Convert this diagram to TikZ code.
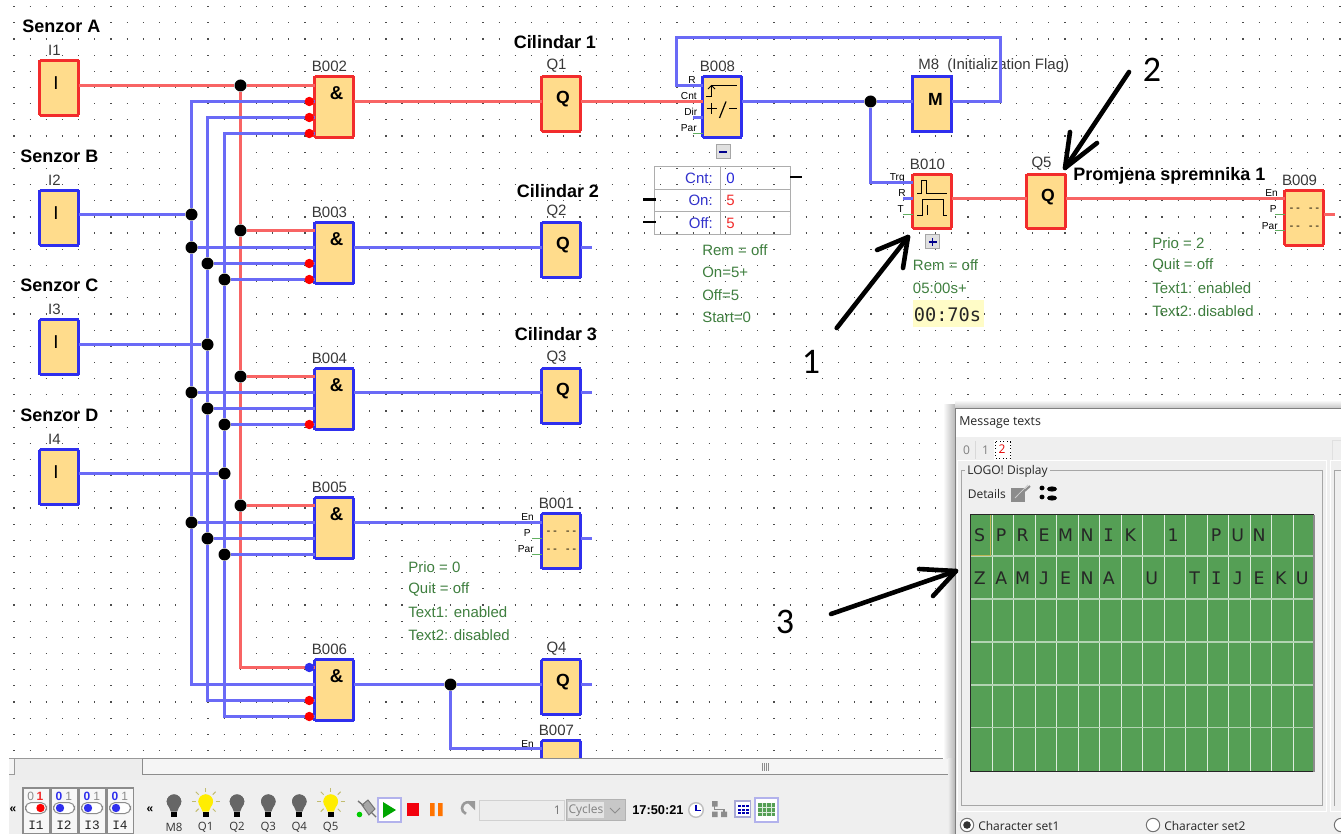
\documentclass[tikz,border=0pt]{standalone}
\usepackage{fontspec}
\setmainfont{Liberation Sans}
\newfontfamily\monofnt{DejaVu Sans Mono}
\newfontfamily\lcdfnt{DejaVu Sans}
\newfontfamily\uifnt{Open Sans}
\newfontfamily\numfnt{Carlito}
\newfontfamily\serfnt{Liberation Mono}
\usetikzlibrary{calc}
\def\px{0.75pt}
\newcommand\szf[1]{\fontsize{#1}{#1}\selectfont}
\newcommand\LI{{\monofnt I}}
\newcommand\LJ{{\monofnt J}}
\definecolor{blk}{HTML}{FFDC8C}
\definecolor{bw}{HTML}{2F2FEE}
\definecolor{rw}{HTML}{F22C2C}
\definecolor{bwl}{HTML}{6A6AF6}
\definecolor{rwl}{HTML}{F86464}
\definecolor{gw}{HTML}{62B062}
\definecolor{gtxt}{HTML}{3F7F3F}
\definecolor{uibg}{HTML}{EFEFEF}
\definecolor{lcd}{HTML}{559F55}
\tikzset{
 block/.style={rectangle,fill=blk,line width=1.4*\px,inner sep=0,outer sep=0,anchor=north west,minimum width=39*\px},
 bb/.style={draw=bw},
 rb/.style={draw=rw},
 idlab/.style={font=\szf{11.25},text=black!78,inner sep=0},
 amp/.style={font=\szf{14}\bfseries,inner sep=0},
 qg/.style={font=\szf{13.2}\bfseries,inner sep=0},
 ig/.style={font=\szf{14},inner sep=0},
 port/.style={font=\szf{7.6},inner sep=0,anchor=east},
 junc/.style={circle,fill=black,inner sep=0,minimum size=12*\px},
 pinr/.style={circle,fill=red,inner sep=0,minimum size=9.4*\px},
 pinb/.style={circle,fill=bw,inner sep=0,minimum size=9.4*\px},
 bwire/.style={draw=bwl,line width=2.2*\px},
 rwire/.style={draw=rwl,line width=2.2*\px},
 gwire/.style={draw=gw,line width=1.3*\px},
 gt/.style={font=\szf{11.25},text=gtxt,inner sep=0,anchor=west},
 head/.style={font=\szf{13.5}\bfseries,inner sep=0,anchor=west},
 hand/.style={draw=black,line width=4.6*\px,line cap=round,line join=round},
 handno/.style={font=\numfnt\szf{27},inner sep=0},
 ui/.style={font=\uifnt\szf{9},inner sep=0,anchor=west,text=black!85},
 lcdch/.style={font=\lcdfnt\szf{13},inner sep=0,text=black!85},
 btnlab/.style={font=\szf{9},inner sep=0},
}
\newcommand\blkn[6]{% name,x,y,h,style,label
 \node[block,#5,minimum height=#4*\px] (#1) at (#2,#3) {};
 \node[idlab] (#1lab) at ($(#1.north)+(-4.5,-10.5)$) {#6};
 \draw[#5,line width=2.6*\px] ($(#1.north east)+(-0.3,0)$) -- ($(#1.south east)+(-0.3,0)$);
 \draw[#5,line width=2.2*\px] (#1.south west) -- (#1.south east);
 \draw[#5,line width=2.2*\px] (#1.north west) -- (#1.north east);
 \draw[#5,line width=2.2*\px] (#1.north west) -- (#1.south west);
}
\newcommand\glyphn[5]{\node[#2] (#1g) at ($(#1.north west)+(#3,#4)$) {#5};}
\newcommand\bulbn[4]{% x,color,label,name
 \fill[#2] (#1-7.3,801.7) arc (180:360:7.3) -- (#1+3.2,811.5) -- (#1-3.2,811.5) -- cycle;
 \fill[#2] (#1,801.7) circle (7.3);
 \fill[black] (#1-3,811.5) rectangle (#1+3,817);
 \node[font=\uifnt\szf{8.6},inner sep=0,text=black!80] (#4) at (#1,827.5) {#3};
}
\begin{document}
\begin{tikzpicture}[x=0.75pt,y=-0.75pt]
\useasboundingbox (0,0) rectangle (1341,834);
\fill[white] (0,0) rectangle (1341,834);
% dot grid
\foreach \j in {0,...,46}
  \draw[black!70,line width=1.2*\px,dash pattern=on 0.9pt off 11.2275pt]
     (13.4,6.7+16.17*\j) -- (1341,6.7+16.17*\j);
% ---- blocks
\blkn{I1}{39.5}{60.5}{55}{rb}{I1}
\blkn{I2}{39.5}{190.5}{55}{bb}{I2}
\blkn{I3}{39.5}{319.5}{55}{bb}{I3}
\blkn{I4}{39.5}{449.5}{55}{bb}{I4}
\blkn{B002}{314.5}{76.5}{61}{rb}{B002}
\blkn{B003}{314.5}{222.5}{61}{bb}{B003}
\blkn{B004}{314.5}{368.5}{61}{bb}{B004}
\blkn{B005}{314.5}{497.5}{61}{bb}{B005}
\blkn{B006}{314.5}{659.5}{61}{bb}{B006}
\blkn{Q1}{541.5}{76.5}{55}{rb}{Q1}
\blkn{Q2}{541.5}{222.5}{55}{bb}{Q2}
\blkn{Q3}{541.5}{368.5}{55}{bb}{Q3}
\blkn{Q4}{541.5}{659.5}{55}{bb}{Q4}
\blkn{B001}{541.5}{513.5}{55}{bb}{B001}
\blkn{B007}{541.5}{740.5}{30}{bb}{B007}
\blkn{B008}{702.5}{76.5}{61}{bb}{B008}
\node[block,bb,minimum height=55*\px] (M8) at (912.5,76.5) {};
\draw[bw,line width=2.2*\px] (M8.south east) -- (M8.north east) -- (M8.north west) -- (M8.south west) -- cycle;
\node[idlab,anchor=west] (M8lab) at (918,66) {M8\ \ (Initialization Flag)};
\blkn{B010}{912.5}{174.5}{54}{rb}{B010}
\blkn{Q5}{1026.5}{174.5}{54}{rb}{Q5}
\blkn{B009}{1284.5}{190.5}{55}{rb}{B009}
% glyphs
\foreach \n in {I1,I2,I3,I4} {\glyphn{\n}{ig}{16.5}{22.8}{I}}
\foreach \n in {B002,B003,B004,B005,B006} {\glyphn{\n}{amp}{22}{16.5}{\&}}
\foreach \n in {Q1,Q2,Q3,Q4,Q5} {\glyphn{\n}{qg}{21.5}{22.5}{Q}}
\glyphn{M8}{qg}{23}{23.3}{M}
% message-block glyphs
\foreach \n in {B001,B009}{
  \node[font=\monofnt\szf{8},inner sep=0] (\n d1) at ($(\n.north west)+(20,19.4)$) {-- --};
  \node[font=\monofnt\szf{8},inner sep=0] (\n d2) at ($(\n.north west)+(20,37.7)$) {-- --};
}
% counter glyph
\draw[black,line width=1*\px] (706,96.5) -- (711.5,96.5) -- (711.5,85.5) -- (737,85.5);
\draw[black,line width=1*\px] (708,89) -- (711.5,85.5) -- (715,89);
\draw[black,line width=1*\px] (706.5,108.5) -- (717,108.5) (711.7,103) -- (711.7,114);
\draw[black,line width=1.2*\px] (719.5,118) -- (726,101.5);
\draw[black,line width=1*\px] (729,108.5) -- (737,108.5);
% timer glyph
\draw[black,line width=1*\px] (917,193.5) -- (921.5,193.5) -- (921.5,180.5) -- (926.5,180.5) -- (926.5,193.5) -- (947,193.5);
\draw[black,line width=1*\px] (917,215.5) -- (922.5,215.5) -- (922.5,199.5) -- (943.5,199.5) -- (943.5,215.5) -- (947,215.5);
\draw[black,line width=1*\px] (927.5,205) -- (927.5,215);
% port labels
\node[port] (pR8) at (696,80) {R};
\node[port] (pC8) at (697,96) {Cnt};
\node[port] (pD8) at (697.5,112) {Dir};
\node[port] (pP8) at (697,128.5) {Par};
\node[port] (pT10) at (905,177.7) {Trg};
\node[port] (pR10) at (906,193.5) {R};
\node[port] (pT10b) at (904,209.5) {T};
\node[port] (pE9) at (1278,193.5) {En};
\node[port] (pP9) at (1277,209) {P};
\node[port] (pA9) at (1278,226) {Par};
\node[port] (pE1) at (534,517) {En};
\node[port] (pP1) at (531,533) {P};
\node[port] (pA1) at (534,549.5) {Par};
\node[port] (pE7) at (534,744) {En};
% ---- junctions
\node[junc] (jA) at (240.5,85.5) {};
\node[junc] (jR3) at (240.5,230.5) {};
\node[junc] (jR4) at (240.5,376.5) {};
\node[junc] (jR5) at (240.5,505.5) {};
\node[junc] (jB) at (191.5,214.5) {};
\node[junc] (jB3) at (191.5,247.5) {};
\node[junc] (jC3) at (207.5,263.5) {};
\node[junc] (jD3) at (224.5,279.5) {};
\node[junc] (jC) at (207.5,344.5) {};
\node[junc] (jB4) at (191.5,392.5) {};
\node[junc] (jC4) at (207.5,408.5) {};
\node[junc] (jD4) at (224.5,424.5) {};
\node[junc] (jD) at (224.5,473.5) {};
\node[junc] (jB5) at (191.5,522.5) {};
\node[junc] (jC5) at (207.5,538.5) {};
\node[junc] (jD5) at (224.5,554.5) {};
\node[junc] (jQ4) at (450.5,684.5) {};
\node[junc] (jM) at (870.5,101.5) {};
% pin positions
\coordinate (p22) at (309.3,101.5);
\coordinate (p23) at (309.3,117.5);
\coordinate (p24) at (309.3,133.5);
\coordinate (p33) at (309.3,263.5);
\coordinate (p34) at (309.3,279.5);
\coordinate (p44) at (309.3,424.5);
\coordinate (p61) at (309.3,667.5);
\coordinate (p63) at (309.3,700.5);
\coordinate (p64) at (309.3,716.5);
\coordinate (wR) at (0,85.5);
\coordinate (cL1) at (676.5,37.5);
\coordinate (cL2) at (1000.5,37.5);
\coordinate (wT) at (0,182.5);
\coordinate (wO) at (0,198.5);
\coordinate (wP) at (0,214.5);
\coordinate (wA) at (0,230.5);
\coordinate (wB7) at (0,748.5);
\coordinate (wD8) at (0,117.5);
\coordinate (wP8) at (0,133.5);
\coordinate (wS1) at (0,538.5);
\coordinate (wS2) at (0,554.5);
% ---- wires
\draw[rwire] (I1.east|-jA) -- (jA) -- (B002.west|-jA);
\draw[rwire] (jA) -- (jR3) -- (jR4) -- (jR5) |- (B006.west|-p61);
\draw[rwire] (jR3) -- (B003.west|-jR3);
\draw[rwire] (jR4) -- (B004.west|-jR4);
\draw[rwire] (jR5) -- (B005.west|-jR5);
\draw[bwire] (I2.east|-jB) -- (jB);
\draw[bwire] (I3.east|-jC) -- (jC);
\draw[bwire] (I4.east|-jD) -- (jD);
\draw[bwire] (B002.west|-p22) -| (jB);
\draw[bwire] (jB) -- (jB3) -- (jB4) -- (jB5) |- (B006.west|-jQ4);
\draw[bwire] (B002.west|-p23) -| (jC3);
\draw[bwire] (jC3) -- (jC) -- (jC4) -- (jC5) |- (B006.west|-p63);
\draw[bwire] (B002.west|-p24) -| (jD3);
\draw[bwire] (jD3) -- (jD4) -- (jD) -- (jD5) |- (B006.west|-p64);
\draw[bwire] (jB3) -- (B003.west|-jB3);
\draw[bwire] (jC3) -- (B003.west|-jC3);
\draw[bwire] (jD3) -- (B003.west|-jD3);
\draw[bwire] (jB4) -- (B004.west|-jB4);
\draw[bwire] (jC4) -- (B004.west|-jC4);
\draw[bwire] (jD4) -- (B004.west|-jD4);
\draw[bwire] (jB5) -- (B005.west|-jB5);
\draw[bwire] (jC5) -- (B005.west|-jC5);
\draw[bwire] (jD5) -- (B005.west|-jD5);
\draw[rwire] (B002.east|-p22) -- (Q1.west|-p22);
\draw[rwire] (Q1.east|-p22) -- (B008.west|-p22);
\draw[bwire] (B003.east|-jB3) -- (Q2.west|-jB3);
\draw[bwire] (Q2.east|-jB3) -- ++(11,0);
\draw[bwire] (B004.east|-jB4) -- (Q3.west|-jB4);
\draw[bwire] (Q3.east|-jB4) -- ++(11,0);
\draw[bwire] (B005.east|-jB5) -- (B001.west|-jB5);
\draw[bwire] (B001.east|-wS1) -- ++(11,0);
\draw[gwire] (B001.west|-wS1) -- ++(-10,0);
\draw[gwire] (B001.west|-wS2) -- ++(-10,0);
\draw[bwire] (B006.east|-jQ4) -- (jQ4) -- (Q4.west|-jQ4);
\draw[bwire] (Q4.east|-jQ4) -- ++(11,0);
\draw[bwire] (jQ4) |- (B007.west|-wB7);
\draw[bwire] (B008.west|-wR) -| (cL1) -- (cL2) |- (M8.east|-jM);
\draw[bwire] (B008.east|-jM) -- (jM) -- (M8.west|-jM);
\draw[bwire] (jM) |- (B010.west|-wT);
\draw[bwire] (B008.west|-wD8) -- ++(-10,0);
\draw[gwire] (B008.west|-wP8) -- ++(-10,0);
\draw[bwire] (B010.west|-wO) -- ++(-10,0);
\draw[gwire] (B010.west|-wP) -- ++(-10,0);
\draw[rwire] (B010.east|-wO) -- (Q5.west|-wO);
\draw[rwire] (Q5.east|-wO) -- (B009.west|-wO);
\draw[rwire] (B009.east|-wP) -- ++(11,0);
\draw[gwire] (B009.west|-wP) -- ++(-10,0);
\draw[gwire] (B009.west|-wA) -- ++(-10,0);
% pins
\node[pinr] (P22) at (p22) {};
\node[pinr] (P23) at (p23) {};
\node[pinr] (P24) at (p24) {};
\node[pinr] (P33) at (p33) {};
\node[pinr] (P34) at (p34) {};
\node[pinr] (P44) at (p44) {};
\node[pinb] (P61) at (p61) {};
\node[pinr] (P63) at (p63) {};
\node[pinr] (P64) at (p64) {};
% headings
\node[head] (hA) at (22,26.5) {Senzor A};
\node[head] (hB) at (20,156) {Senzor B};
\node[head] (hC) at (20,285) {Senzor C};
\node[head] (hD) at (20,415) {Senzor D};
\node[head,anchor=center] (c1) at (555,42) {Cilindar 1};
\node[head,anchor=center] (c2) at (558,191) {Cilindar 2};
\node[head,anchor=center] (c3) at (556,334) {Cilindar 3};
\node[head] (hP) at (1073,176) {Promjena spremnika 1};
% counter table
\draw[black!32,line width=1.3*\px] (654.5,166.5) rectangle (790.5,234.5);
\draw[black!32,line width=1.3*\px] (654.5,189.5) -- (790.5,189.5) (654.5,211.5) -- (790.5,211.5) (720.5,166.5) -- (720.5,234.5);
\node[font=\szf{11.25},inner sep=0,anchor=east,text=blue!60!gray] (tC) at (713,178) {Cnt:};
\node[font=\szf{11.25},inner sep=0,anchor=east,text=blue!60!gray] (tO) at (713,200.5) {On:};
\node[font=\szf{11.25},inner sep=0,anchor=east,text=blue!60!gray] (tF) at (713,223) {Off:};
\node[font=\szf{11.25},inner sep=0,anchor=west,text=blue!70!gray] (vC) at (726,178) {0};
\node[font=\szf{11.25},inner sep=0,anchor=west,text=rw] (vO) at (726,200.5) {5};
\node[font=\szf{11.25},inner sep=0,anchor=west,text=rw] (vF) at (726,223) {5};
\draw[black,line width=2.4*\px] (790,177) -- (802,177) (643,199.5) -- (656,199.5) (643,222) -- (656,222);
% expand buttons
\draw[black!35,fill=black!12,line width=1*\px] (716,145) rectangle (730,159);
\draw[blue!55!black,line width=1.4*\px] (719,152) -- (727,152);
\draw[black!35,fill=black!12,line width=1*\px] (925.5,235) rectangle (939.5,249);
\draw[blue!55!black,line width=1.4*\px] (928.5,242) -- (936.5,242) (932.5,238) -- (932.5,246);
% parameter texts
\node[gt] (t1) at (702,250) {Rem = off};
\node[gt] (t2) at (702,272.5) {On=5+};
\node[gt] (t3) at (702,295) {Off=5};
\node[gt] (t4) at (702,317.5) {Start=0};
\node[gt] (t5) at (912.7,265.5) {Rem = off};
\node[gt] (t6) at (912.7,288) {05:00s+};
\fill[yellow!22] (912.7,300) rectangle (984,327);
\node[font=\monofnt\szf{14},inner sep=0,anchor=west,text=black!85] (t7) at (913.5,315) {00:70s};
\node[gt] (t8) at (1152,243) {Prio = 2};
\node[gt] (t9) at (1152,265.5) {Quit = off};
\node[gt] (t10) at (1152,288) {Text1: enabled};
\node[gt] (t11) at (1152,311) {Text2: disabled};
\node[gt] (t12) at (408,567) {Prio = 0};
\node[gt] (t13) at (408,589.5) {Quit = off};
\node[gt] (t14) at (408,612) {Text1: enabled};
\node[gt] (t15) at (408,635) {Text2: disabled};
% ---- toolbar
\fill[black!7] (9,758) rectangle (956,780);
\draw[black!40,line width=1*\px] (9,758.5) -- (956,758.5);
\draw[black!40,fill=black!4,line width=1*\px] (9,758.5) -- (14.5,758.5) -- (14.5,774.5) -- (9,774.5);
\draw[black!45,fill=black!4,line width=1.4*\px] (142.5,758.5) rectangle (955,774.5);
\foreach \k in {0,...,3} \draw[black!45,line width=1*\px] (762.5+2*\k,763) -- (762.5+2*\k,771);
\fill[uibg] (9,780) rectangle (956,834);
\node[font=\szf{9}\bfseries,inner sep=0] (ch1) at (13,810) {«};
\node[font=\szf{9}\bfseries,inner sep=0] (ch2) at (150,810) {«};
\foreach \x/\n/\pc/\dx/\nm/\dc in {23/I1/36/4.5/a/red,51/I2/64/-4/b/bw,79/I3/92/-4/c/bw,107/I4/120/-4/d/bw}{
  \draw[black!45,fill=black!3,line width=1.2*\px] (\x,788) -- (\x+26.5,788) -- (\x+26.5,834) -- (\x,834) -- cycle;
  \draw[black!45,fill=white,line width=1*\px,rounded corners=4.2pt] (\pc-10.5,802.5) rectangle (\pc+10.5,813.5);
  \fill[\dc] (\pc+\dx,808) circle (4.2);
  \node[font=\serfnt\szf{9.6},inner sep=0,text=black!85] (sw\nm) at (\x+13,825) {\n};
}
\node[btnlab,text=black!45] (z1) at (30.7,796) {0};
\node[btnlab,text=rw] (o1) at (40,796) {\bfseries 1};
\foreach \xa/\nm in {59/b,87/c,115/d}{
  \node[btnlab,text=bw] (z\nm) at (\xa,796) {\bfseries 0};
  \node[btnlab,text=black!45] (o\nm) at (\xa+9.6,796) {1};
}
\bulbn{174}{black!60}{M8}{bm}
\bulbn{205.7}{yellow!95!orange}{Q1}{bq1}
\bulbn{237}{black!60}{Q2}{bq2}
\bulbn{268.3}{black!60}{Q3}{bq3}
\bulbn{299.3}{black!60}{Q4}{bq4}
\bulbn{330.7}{yellow!95!orange}{Q5}{bq5}
\foreach \xc in {205.7,330.7}\foreach \a in {0,45,135,180,225,270,315}
  \draw[yellow!60!black!70,line width=1*\px] ($(\xc,801.7)+(\a:10)$) -- ($(\xc,801.7)+(\a:14)$);
% plug
\draw[black!55,fill=black!35,line width=1*\px] (362,805) -- (368,800) -- (375,809) -- (369,815) -- cycle;
\draw[black!55,line width=1.4*\px] (358,801) -- (364,806) (371,812) -- (376,817);
\fill[green!80!black] (359.5,814.5) circle (2.8);
% run controls
\draw[black!25!blue!30,fill=white,line width=1.2*\px] (378,798) rectangle (401,822);
\fill[green!65!black] (383,802) -- (396,810) -- (383,818) -- cycle;
\fill[red!95!blue] (407,803) rectangle (419,816);
\fill[orange!90!red] (430,803) rectangle (434.5,816) (438,803) rectangle (442.5,816);
\draw[black!40,line width=2.6*\px] (471,803) arc (-60:-250:6) ;
\fill[black!40] (466,801) -- (475,801) -- (475,810) -- cycle;
\draw[black!18,fill=black!7,line width=1*\px] (479,800) rectangle (564,820);
\node[font=\uifnt\szf{9},inner sep=0,anchor=east,text=black!55] (cyc1) at (561,810.5) {1};
\draw[black!30,fill=black!22,line width=1*\px] (566,799.5) rectangle (625,820.5);
\fill[black!10] (568,802) rectangle (604,818);
\node[font=\uifnt\szf{9},inner sep=0,text=black!50] (cyc) at (586,810) {Cycles};
\draw[black!45,line width=1*\px] (610,808) -- (615,813) -- (620,808);
\node[font=\szf{9.6}\bfseries,inner sep=0,anchor=west] (clk) at (632,810) {17:50:21};
\draw[black!25,fill=white,line width=1.4*\px] (696,810) circle (7.3);
\draw[blue!70!black,line width=1.6*\px] (696,804.5) -- (696,810.5) -- (701,810.5);
\fill[black!45] (712,801) rectangle (717.5,806.5) (712,811.5) rectangle (717.5,817) (721,811.5) rectangle (727,817);
\draw[black!45,line width=1.2*\px] (714.5,806) -- (714.5,809.5) -- (724,809.5) -- (724,812);
\draw[blue!35!gray!50,fill=white,line width=1.2*\px] (735,801) rectangle (750.5,817);
\foreach \r in {805,808.5,812}\foreach \c in {738,742,746}
  \fill[blue!70!black] (\c,\r) rectangle (\c+3,\r+2);
\draw[black!25!blue!30,fill=white,line width=1.2*\px] (755,798) rectangle (778,822);
\fill[lcd] (758,803) rectangle (775,816);
\draw[white!80!lcd,line width=.7*\px] (762,803) -- (762,816) (766.5,803) -- (766.5,816) (771,803) -- (771,816) (758,807.5) -- (775,807.5) (758,812) -- (775,812);
% ---- dialog shadow
\shade[left color=white,right color=black!28] (943,404) rectangle (955,758);
\shade[left color=black!7,right color=black!30] (948,758) rectangle (955,834);
\shade[top color=white,bottom color=black!22] (955,400) rectangle (1341,408);
% ---- dialog
\fill[uibg] (955,408) rectangle (1341,834);
\fill[white] (956,409) rectangle (1341,436.5);
\draw[black!50,line width=1.2*\px] (955.5,834) -- (955.5,408.5) -- (1341,408.5);
\node[ui,font=\uifnt\szf{9.3}] (dt) at (959,422.5) {Message texts};
% tabs
\draw[white,line width=1.2*\px] (957.5,460.5) rectangle (1326.5,811.5);
\draw[white,line width=1.2*\px] (1341,460.5) -- (1330.5,460.5) -- (1330.5,811.5) -- (1341,811.5);
\draw[black!35,line width=1*\px] (961.5,470.5) rectangle (1322.5,805.5);
\draw[black!35,line width=1*\px] (1334.5,805.5) -- (1334.5,470.5) -- (1341,470.5);
\draw[black!12,line width=1*\px] (1332.5,460) -- (1332.5,440.5) -- (1341,440.5);
\fill[white] (994,440) rectangle (1011,460);
\draw[black,dotted,line width=.8*\px] (995.5,441.5) rectangle (1010.5,458.5);
\node[ui,anchor=center,text=black!50] (tab0) at (966.5,450) {0};
\node[ui,anchor=center,text=black!50] (tab1) at (985.5,450) {1};
\node[ui,anchor=center,text=red!90!black] (tab2) at (1002,449) {2};
\draw[black!15,line width=1*\px] (975.5,441) -- (975.5,459);
\node[ui,fill=uibg,inner xsep=1.5pt,inner ysep=1pt] (gl) at (965,471.5) {LOGO! Display};
\node[ui] (dl) at (967.5,494) {Details};
\fill[black!45] (1011,488) rectangle (1025,502);
\draw[black!20,line width=1*\px] (1015,498) -- (1028,485);
\draw[black!45,line width=2*\px] (1019,496) -- (1030,486);
\fill[black] (1042,488) ellipse (2.5 and 2.4) (1052,489) ellipse (5 and 2.6) (1042,497) ellipse (2.5 and 2.4) (1052,498) ellipse (5 and 2.6);
% LCD
\fill[lcd] (970,514) rectangle (1314,771.5);
\foreach \i in {1,...,15}
  \draw[white!80!lcd,line width=1*\px] (970.5+21.5*\i,514) -- (970.5+21.5*\i,771.5);
\foreach \j in {1,...,5}
  \draw[white!55!lcd,line width=1.4*\px] (970,513.2+42.9*\j) -- (1314,513.2+42.9*\j);
\draw[black!85,line width=1.2*\px] (1314,771.5) -- (970.5,771.5) -- (970.5,514.5) -- (1314,514.5);
\draw[black!45,line width=1.2*\px] (1314,514.5) -- (1314,771.5);
\draw[yellow!65!black!85,line width=1*\px] (971,555.5) -- (990.5,555.5) -- (990.5,515);
\foreach \c/\t in {0/S,1/P,2/R,3/E,4/M,5/N,6/\LI,7/K,9/1,11/P,12/U,13/N}
  \node[lcdch] (la\c) at (979.7+21.5*\c,535) {\t};
\foreach \c/\t in {0/Z,1/A,2/M,3/\LJ,4/E,5/N,6/A,8/U,10/T,11/\LI,12/\LJ,13/E,14/K,15/U}
  \node[lcdch] (lb\c) at (979.7+21.5*\c,578) {\t};
% radios
\draw[black!55,fill=white,line width=1*\px] (967,825) circle (6.7);
\fill[black!80] (967,825) circle (3.8);
\node[ui] (r1) at (978,825.5) {Character set1};
\draw[black!55,fill=white,line width=1*\px] (1153,825) circle (6.7);
\node[ui] (r2) at (1164,825.5) {Character set2};
\draw[black!55,fill=white,line width=1*\px] (1341,825) circle (6.7);
% ---- hand arrows
\draw[hand] (836.7,328) -- (908,237);
\draw[hand] (877,250) -- (908,237) -- (903,268);
\node[handno] (n1) at (811,362) {1};
\draw[hand] (1129,72) -- (1065,168);
\draw[hand] (1070,132) -- (1065,168) -- (1097,143);
\node[handno] (n2) at (1152,70) {2};
\draw[hand] (831,614) -- (956,571);
\draw[hand] (919,569) -- (956,571) -- (933,596);
\node[handno] (n3) at (785,622) {3};
\end{tikzpicture}
\end{document}
